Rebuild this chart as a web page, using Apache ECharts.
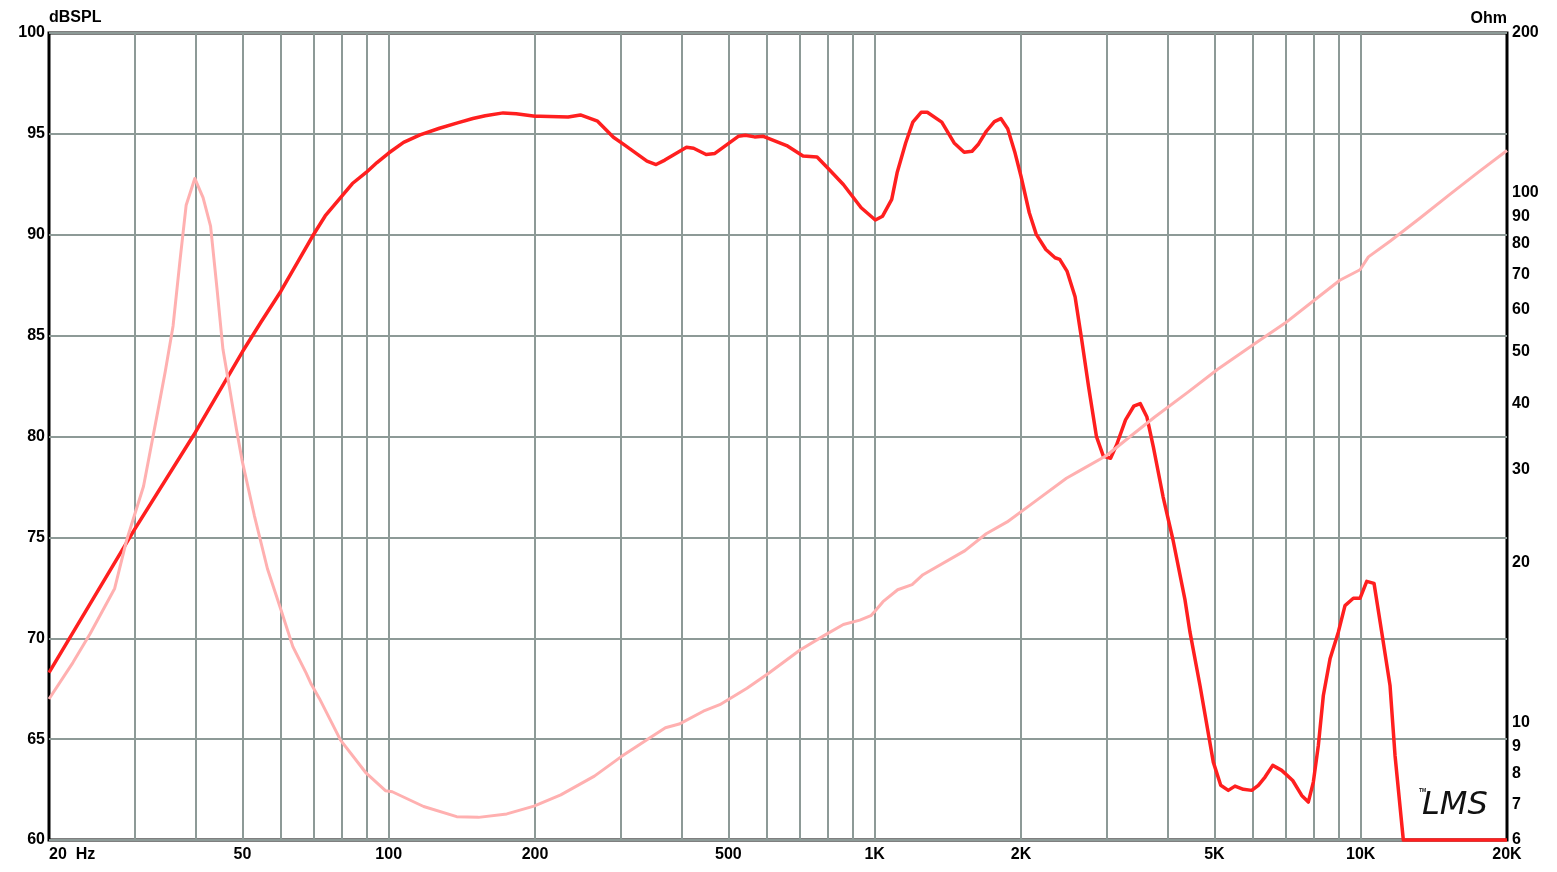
<!DOCTYPE html>
<html><head><meta charset="utf-8">
<script src="https://cdn.jsdelivr.net/npm/echarts@6/dist/echarts.min.js"></script>
<style>html,body{margin:0;padding:0;background:#fff}#c{width:1557px;height:872px}</style>
</head><body><div id="c"></div>
<script>
// ---- data ----
const splFreq = [20,30,40,50,54.7,60,65,70,74,80,84.2,90,94.6,100,107.3,116,127.2,138,149,158,172,183,200,205,234,248,269,290,307,340,355,370,410,424,450,469,524,542,566,590,659,712,761,806,862,938,1003,1038,1084,1112,1158,1198,1246,1283,1374,1457,1528,1586,1636,1697,1763,1818,1878,1944,2000,2080,2150,2250,2350,2403,2487,2584,2667,2755,2860,2954,3057,3145,3282,3412,3519,3630,3744,3922,4110,4350,4454,4670,4974,5152,5340,5512,5734,5968,6157,6356,6592,6878,7246,7562,7802,7990,8182,8378,8648,8994,9283,9657,9968,10290,10652,11048,11490,11766,12238,20000];
const splDb = [68.3,75.4,80.2,84.2,85.7,87.2,88.66,90.0,90.93,91.9,92.54,93.1,93.58,94.05,94.58,94.95,95.28,95.53,95.76,95.9,96.04,96.0,95.87,95.87,95.84,95.94,95.63,94.83,94.42,93.65,93.48,93.7,94.34,94.29,93.98,94.03,94.88,94.93,94.85,94.88,94.42,93.9,93.85,93.23,92.49,91.34,90.73,90.92,91.75,93.07,94.55,95.58,96.07,96.07,95.58,94.55,94.09,94.14,94.5,95.13,95.61,95.76,95.25,94.06,92.9,91.09,90.02,89.27,88.86,88.78,88.2,86.93,84.78,82.47,79.99,79.03,78.92,79.58,80.82,81.5,81.63,80.98,79.49,77.0,74.87,71.9,70.3,67.66,63.86,62.71,62.46,62.67,62.51,62.46,62.71,63.12,63.7,63.45,62.95,62.21,61.88,62.87,64.69,67.16,68.98,70.3,71.62,71.98,71.98,72.82,72.72,70.3,67.66,64.19,60.0,60.0];

const impFreq = [20,22.4,24.3,27.3,28.9,31.3,33.3,34.7,36,37.2,38.3,39.9,41.5,43,44.3,45.6,47,48.6,49.9,52.9,56.3,59.9,63.5,67.6,69.3,72,79.6,89.9,98.6,101.7,118,138,153,175,199,226,265,301,343,371,396,444,480,546,606,702,788,862,932,982,1000,1040,1115,1194,1257,1534,1696,1873,2159,2480,2632,3000,3350,3769,4426,5079,6081,6990,8036,9058,9968,10372,11508,13232,15210,17492,20000];
const impOhm = [11.07,12.97,14.7,17.9,22.1,27.9,37.6,46,56,74.4,94.6,106.3,97.8,86.4,66.3,50.6,43,35.8,31.3,24.6,19.5,16.4,13.9,12.4,11.8,11.1,9.26,8.02,7.43,7.4,6.94,6.64,6.62,6.72,6.95,7.3,7.92,8.62,9.33,9.77,9.93,10.5,10.8,11.6,12.4,13.7,14.6,15.3,15.6,15.9,16.2,16.9,17.8,18.2,19.0,21.1,22.7,23.9,26.3,28.9,29.8,31.9,34.6,37.7,42.1,46.4,52,56.7,62.7,68.3,71.5,75.6,81.0,89.4,99,109.4,120];

const freqGridLines = [30,40,50,60,70,80,90,100,200,300,400,500,600,700,800,900,1000,2000,3000,4000,5000,6000,7000,8000,9000,10000];
const freqTickValues = [20,50,100,200,500,1000,2000,5000,10000,20000];
const freqTickLabels = ['20  Hz','50','100','200','500','1K','2K','5K','10K','20K'];
const ohmTickValues = [6,7,8,9,10,20,30,40,50,60,70,80,90,100,200];
const ohmTickLabels = ['6','7','8','9','10','20','30','40','50','60','70','80','90','100','200'];

// ---- styles ----
const FONT = '"Liberation Sans", Arial, sans-serif';
const GRID = '#8d9a97';
const RED = '#ff1f1f';
const PINK = '#ffb0b0';
const labelStyle = {color:'#000', fontWeight:'bold', fontSize:16, fontFamily:FONT, opacity:1};
const hiddenLine = {color:'rgba(0,0,0,0)', width:0};

const splData = splFreq.map((f,i)=>[f, splDb[i]]);
const impData = impFreq.map((f,i)=>[f, impOhm[i]]);

const vLines = freqGridLines.map(f=>({xAxis:f}));
const xLabels = freqTickValues.map((f,i)=>({
  xAxis:f,
  lineStyle:hiddenLine,
  label:Object.assign({show:true, position:'start', distance:7, formatter:freqTickLabels[i]}, labelStyle, i===0?{align:'left'}:{})
}));
const ohmLabels = ohmTickValues.map((v,i)=>({
  yAxis:v,
  lineStyle:hiddenLine,
  label:Object.assign({show:true, position:'end', distance:5, formatter:ohmTickLabels[i]}, labelStyle)
}));

const chart = echarts.init(document.getElementById('c'), null, {renderer:'canvas'});
chart.setOption({
  animation:false,
  backgroundColor:'#fff',
  grid:{left:49, right:50, top:33, bottom:32, show:true, borderColor:'#000', borderWidth:3, backgroundColor:'transparent'},
  xAxis:{type:'log', logBase:10, min:20, max:20000,
    axisLine:{show:false}, axisTick:{show:false}, axisLabel:{show:false}, splitLine:{show:false}},
  yAxis:[
    {type:'value', min:60, max:100, interval:5, position:'left',
      name:'dBSPL', nameLocation:'end', nameGap:6,
      nameTextStyle:{align:'left', color:'#000', fontWeight:'bold', fontSize:16, fontFamily:FONT},
      axisLine:{show:false}, axisTick:{show:false},
      axisLabel:Object.assign({margin:4}, labelStyle),
      splitLine:{show:true, lineStyle:{color:GRID, width:2}}},
    {type:'log', logBase:10, min:6, max:200, position:'right',
      name:'Ohm', nameLocation:'end', nameGap:6,
      nameTextStyle:{align:'right', color:'#000', fontWeight:'bold', fontSize:16, fontFamily:FONT},
      axisLine:{show:false}, axisTick:{show:false}, axisLabel:{show:false}, splitLine:{show:false}}
  ],
  series:[
    {type:'line', name:'grid', xAxisIndex:0, yAxisIndex:0, data:[], z:1, silent:true,
      markLine:{silent:true, symbol:'none', z:1, animation:false,
        lineStyle:{color:GRID, width:2, type:'solid'},
        label:{show:false}, emphasis:{disabled:true},
        data: vLines.concat(xLabels)}},
    {type:'line', name:'ohmlabels', xAxisIndex:0, yAxisIndex:1, data:[], z:1, silent:true,
      markLine:{silent:true, symbol:'none', z:1, animation:false,
        lineStyle:hiddenLine, label:{show:false}, emphasis:{disabled:true},
        data: ohmLabels}},
    {type:'line', name:'SPL', xAxisIndex:0, yAxisIndex:0, data:splData, z:10,
      showSymbol:false, symbol:'none', clip:false,
      lineStyle:{color:RED, width:3.5, join:'round'}},
    {type:'line', name:'Impedance', xAxisIndex:0, yAxisIndex:1, data:impData, z:11,
      showSymbol:false, symbol:'none', clip:false,
      lineStyle:{color:PINK, width:3, join:'round'}}
  ],
  graphic:[
    {type:'text', left:1419, top:788, z:100, style:{text:'TM', font:'bold 5px sans-serif', fill:'#111'}},
    {type:'text', left:1422, top:790, z:100, style:{text:'LMS', font:'italic 32px "DejaVu Sans", sans-serif', fill:'#111'}}
  ]
});
</script>
</body></html>
